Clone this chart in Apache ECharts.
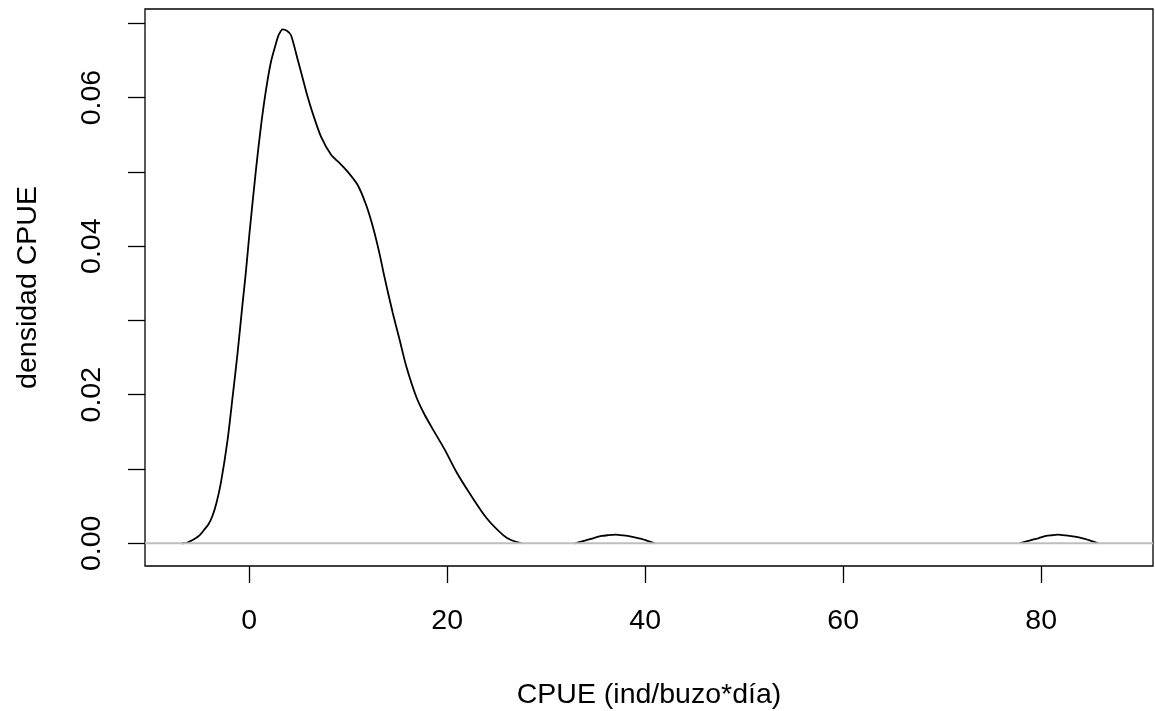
<!DOCTYPE html>
<html>
<head>
<meta charset="utf-8">
<script src="https://cdn.jsdelivr.net/npm/echarts@6/dist/echarts.min.js"></script>
<style>
html,body{margin:0;padding:0;background:#fff;}
#chart{width:1155px;height:711px;}
</style>
</head>
<body>
<div id="chart"></div>
<script>
// CPUE values (x) and estimated density (y)
const mainX = [-6.8, -6.25, -5.5, -5.0, -4.56, -4.1, -3.71, -3.3, -2.87, -2.19, -1.68, -1.18, -0.68, -0.34, 0, 0.68, 1.18, 1.69, 2.19, 2.7, 3.0, 3.37, 3.8, 4.22, 4.9, 5.4, 5.9, 6.41, 7.26, 8.27, 9.11, 9.96, 10.97, 11.82, 12.49, 13.16, 13.67, 14.5, 15.19, 15.87, 16.88, 17.72, 18.57, 19.75, 20.93, 22.28, 23.97, 25.65, 26.5, 27.5];
const mainY = [0, 0.0001, 0.0006, 0.0011, 0.0018, 0.0026, 0.0037, 0.0055, 0.0081, 0.0139, 0.0197, 0.0256, 0.0322, 0.0365, 0.0414, 0.0503, 0.0561, 0.0610, 0.0648, 0.0673, 0.0685, 0.0692, 0.0690, 0.0684, 0.0651, 0.0626, 0.0601, 0.0579, 0.0547, 0.0523, 0.0512, 0.0500, 0.0482, 0.0455, 0.0426, 0.0390, 0.0358, 0.0310, 0.0274, 0.0238, 0.0197, 0.0173, 0.0153, 0.0126, 0.0096, 0.0067, 0.0034, 0.0011, 0.0004, 0];
const bump1X = [32.9, 33.9, 34.75, 35.6, 36.2, 37.0, 37.8, 38.6, 39.5, 40.3, 41.0];
const bump1Y = [0, 0.00035, 0.00067, 0.00098, 0.00108, 0.00116, 0.00105, 0.00088, 0.00061, 0.00030, 0];
const bump2X = [77.8, 78.8, 79.7, 80.5, 81.1, 81.7, 82.5, 83.4, 84.3, 85.1, 85.8];
const bump2Y = [0, 0.00035, 0.00067, 0.00098, 0.00108, 0.00116, 0.00105, 0.00088, 0.00061, 0.00030, 0];

const xTicks = [0, 20, 40, 60, 80];
const yTicks = [0, 0.01, 0.02, 0.03, 0.04, 0.05, 0.06, 0.07];
const yLabels = [0, 0.02, 0.04, 0.06];
const xMin = -10.53, xMax = 91.3;
const yMin = -0.00306, yMax = 0.07193;

function pairs(xs, ys) { return xs.map((x, i) => [x, ys[i]]); }
const curve = pairs(mainX, mainY).concat([[null, null]], pairs(bump1X, bump1Y), [[null, null]], pairs(bump2X, bump2Y));

const FONT = 'Liberation Sans, Arial, Helvetica, sans-serif';
const FS = 28.5;
const chart = echarts.init(document.getElementById('chart'), null, {renderer: 'canvas'});
chart.setOption({
  animation: false,
  backgroundColor: '#ffffff',
  grid: {left: 145, right: 2, top: 9, bottom: 145, outerBoundsMode: 'none', containLabel: false,
    show: true, borderColor: '#000', borderWidth: 1.3, backgroundColor: 'transparent'},
  xAxis: {
    type: 'value', min: xMin, max: xMax,
    name: 'CPUE (ind/buzo*día)', nameLocation: 'middle', nameGap: 115,
    nameTextStyle: {fontFamily: FONT, fontSize: FS, color: '#000'},
    axisLine: {show: false, onZero: false},
    splitLine: {show: false},
    axisTick: {show: true, inside: false, length: 17, customValues: xTicks, lineStyle: {color: '#000', width: 1.3}},
    axisLabel: {show: true, customValues: xTicks, margin: 41, fontFamily: FONT, fontSize: FS, color: '#000',
      formatter: v => String(v)}
  },
  yAxis: {
    type: 'value', min: yMin, max: yMax,
    name: 'densidad CPUE', nameLocation: 'middle', nameGap: 102, nameRotate: 90,
    nameTextStyle: {fontFamily: FONT, fontSize: FS, color: '#000'},
    axisLine: {show: false, onZero: false},
    splitLine: {show: false},
    axisTick: {show: true, inside: false, length: 17, customValues: yTicks, lineStyle: {color: '#000', width: 1.3}},
    axisLabel: {show: true, customValues: yLabels, rotate: 90, margin: 38, fontFamily: FONT, fontSize: FS, color: '#000',
      formatter: v => v.toFixed(2)}
  },
  series: [
    {
      type: 'line', data: curve, showSymbol: false, smooth: 0.25, connectNulls: false,
      lineStyle: {color: '#000', width: 1.8}, z: 2, silent: true
    },
    {
      type: 'line', data: [[xMin, 0], [xMax, 0]], showSymbol: false,
      lineStyle: {color: '#bebebe', width: 2}, z: 3, silent: true
    }
  ]
});
</script>
</body>
</html>
